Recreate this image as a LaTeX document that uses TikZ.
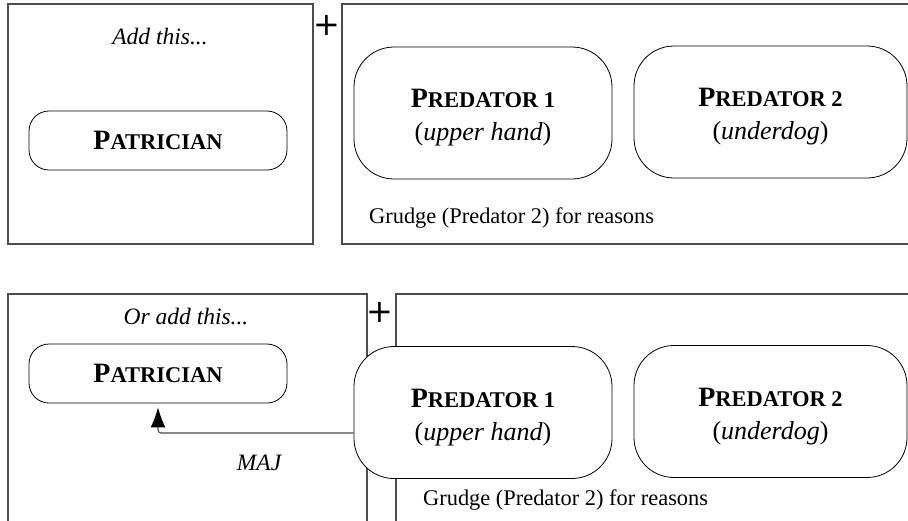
\documentclass[tikz,border=0pt]{standalone}
\usepackage{fontspec}
\setmainfont{Liberation Serif}
\newfontfamily\labelfont{Liberation Serif Bold}
\newfontfamily\plusfont{DejaVu Sans}
\usetikzlibrary{arrows.meta}
% small capitals built from a full-size initial and a reduced remainder
\newcommand{\capsword}[2]{#1{\fontsize{22.5}{22.5}\selectfont #2}}
\begin{document}
\begin{tikzpicture}[x=1pt,y=-1pt,
  panel/.style={draw=black!70, line width=1.1pt, inner sep=0pt},
  role/.style={draw=black, line width=0.8pt, inner sep=0pt, align=center},
  patrician/.style={role, rounded corners=20pt, minimum width=258pt, minimum height=59pt,
    font=\labelfont\fontsize{28}{33}\selectfont},
  predator/.style={role, rounded corners=40pt, minimum height=132pt,
    font=\fontsize{28}{33}\selectfont},
  caption/.style={font=\fontsize{23.5}{26}\selectfont\itshape, inner sep=0pt},
  note/.style={font=\fontsize{22.4}{26}\selectfont, inner sep=0pt, anchor=base west},
  plus/.style={font=\plusfont\fontsize{32}{32}\selectfont, inner sep=0pt},
  majarrow/.style={draw=black!70, line width=1.1pt, rounded corners=3pt,
    -{Latex[length=20pt,width=15pt,color=black]}, shorten >=4pt}]
\useasboundingbox (0,0) rectangle (908,520);
\clip (0,0) rectangle (908,520);

% first option
\node[panel, minimum width=305pt, minimum height=240pt] (addA) at (160.5,124) {};
\node[panel, minimum width=588pt, minimum height=240pt] (baseA) at (636,124) {};
\node[plus] (plusA) at (327,25) {+};

\node[caption] (titleA) at (160,37) {Add this...};
\node[patrician] (patA) at (158,140.5) {\capsword{P}{ATRICIAN}};

\node[predator, minimum width=258pt] (predOneA) at (483,113)
  {\rule{0pt}{28pt}{\labelfont\capsword{P}{REDATOR 1}}\\
   {\fontsize{26}{33}\selectfont(\textit{upper hand})}};
\node[predator, minimum width=273pt] (predTwoA) at (770.5,112)
  {\rule{0pt}{28pt}{\labelfont\capsword{P}{REDATOR 2}}\\
   {\fontsize{26}{33}\selectfont(\textit{underdog})}};
\node[note] (grudgeA) at (369,223) {Grudge (Predator 2) for reasons};

% second option
\node[panel, minimum width=359pt, minimum height=246pt] (addB) at (187.5,417) {};
\node[panel, minimum width=534pt, minimum height=246pt] (baseB) at (663,417) {};
\node[plus] (plusB) at (380,312) {+};

\node[caption] (titleB) at (186,317) {Or add this...};
\node[patrician] (patB) at (158,373.5) {\capsword{P}{ATRICIAN}};

\node[note] (grudgeB) at (423,505) {Grudge (Predator 2) for reasons};
\node[predator, minimum width=258pt, fill=white] (predOneB) at (483,412.5)
  {\rule{0pt}{28pt}{\labelfont\capsword{P}{REDATOR 1}}\\
   {\fontsize{26}{33}\selectfont(\textit{upper hand})}};
\node[predator, minimum width=273pt] (predTwoB) at (770.5,411.5)
  {\rule{0pt}{28pt}{\labelfont\capsword{P}{REDATOR 2}}\\
   {\fontsize{26}{33}\selectfont(\textit{underdog})}};

% majority link from Predator 1 back to the patrician
\coordinate (majlevel) at (0,433);
\draw[majarrow] (predOneB.west |- majlevel) -| (patB.south);
\node[caption] (maj) at (259,463) {MAJ};
\end{tikzpicture}
\end{document}
